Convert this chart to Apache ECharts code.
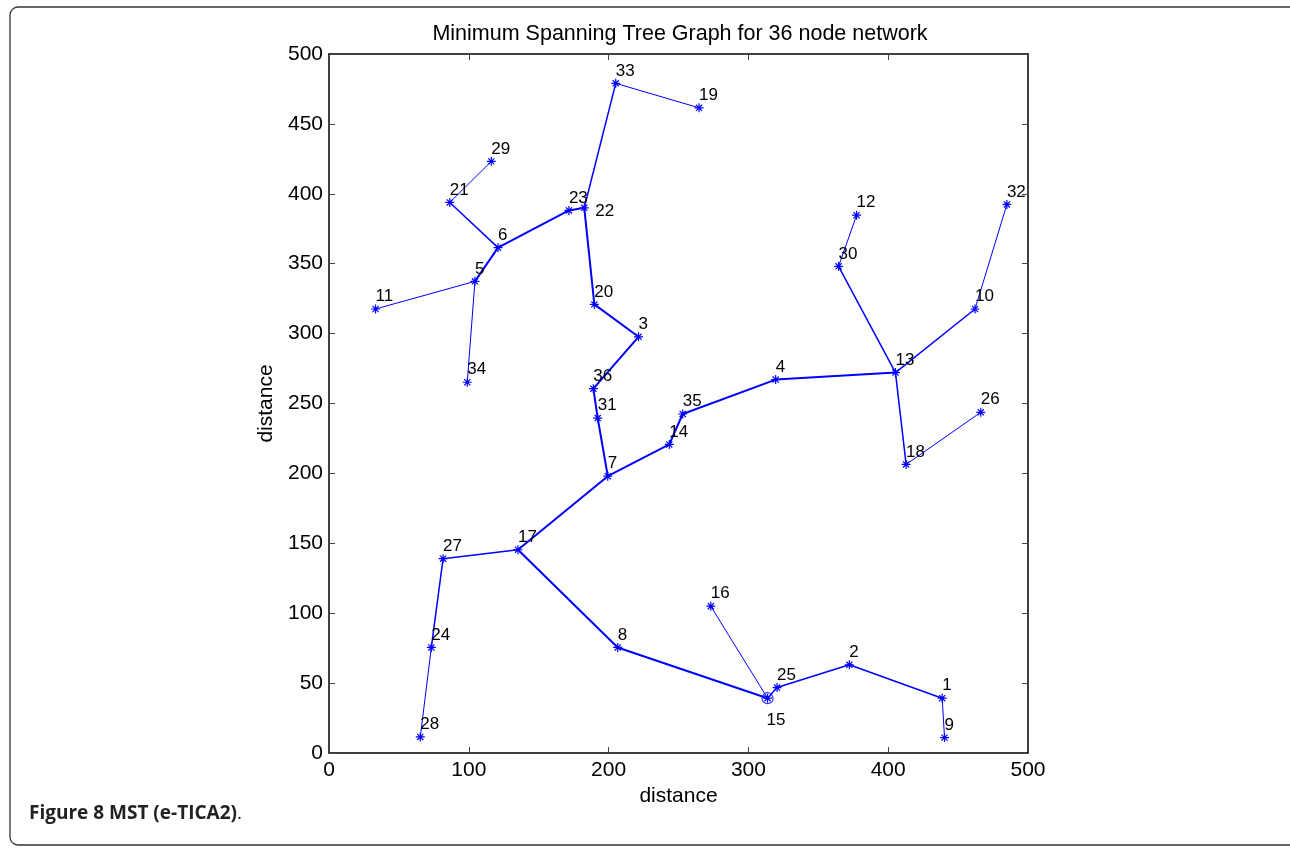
<!DOCTYPE html>
<html>
<head>
<meta charset="utf-8">
<script src="https://cdn.jsdelivr.net/npm/echarts@6/dist/echarts.min.js"></script>
<style>
html,body{margin:0;padding:0;background:#fff;}
#c{width:1290px;height:848px;}
</style>
</head>
<body>
<div id="c"></div>
<script>
// ---- data ----
const titleText = 'Minimum Spanning Tree Graph for 36 node network';
const xName = 'distance';
const yName = 'distance';
const caption = 'Figure 8 MST (e-TICA2)';
const xTicks = [0, 100, 200, 300, 400, 500];
const yTicks = [0, 50, 100, 150, 200, 250, 300, 350, 400, 450, 500];

const nodeIds = [1,2,3,4,5,6,7,8,9,10,11,12,13,14,15,16,17,18,19,20,21,22,23,24,25,26,27,28,29,30,31,32,33,34,35,36];
const nodeX = [438.6,372.2,221.4,319.5,104.4,120.9,199.4,206.5,440.3,462.1,33.3,377.4,405.2,243.4,313.7,273.1,135.2,412.8,264.7,189.8,86.4,182.6,171.6,73.2,320.5,466.2,81.6,65.3,116.1,364.5,192.2,484.9,205.1,98.9,253.0,189.1];
const nodeY = [39.2,63.1,297.7,267.1,337.4,361.5,198.0,75.5,11.0,317.6,317.6,384.7,272.1,220.7,39.2,105.0,145.4,206.4,461.5,320.9,393.8,390.0,388.1,75.5,46.8,243.7,139.0,11.5,423.2,348.1,239.6,392.4,479.0,265.2,242.5,260.6];
const rootNode = 15;

// MST edges (node id pairs)
const edges = [
  [33,19],[33,22],[29,21],[21,6],[6,23],[23,22],[22,20],[6,5],[5,11],[5,34],
  [20,3],[3,36],[36,31],[31,7],[7,14],[14,35],[35,4],[4,13],[13,30],[30,12],
  [13,10],[10,32],[13,18],[18,26],[7,17],[17,27],[27,24],[24,28],[17,8],[8,15],
  [15,16],[15,25],[25,2],[2,1],[1,9]
];
// edges overdrawn several times in the original plot (look heavier)
const heavyEdges = [[6,23],[23,22],[22,20],[20,3],[3,36],[36,31],[31,7],[7,14],[14,35],[35,4],[4,13],[7,17],[17,8],[8,15],[6,5]];
const mediumEdges = [[21,6],[33,22],[13,30],[13,18],[17,27],[27,24],[15,25],[25,2],[2,1],[13,10]];

// ---- build ----
const BLUE = '#0000ff';
function pt(id){ const i = nodeIds.indexOf(id); return [nodeX[i], nodeY[i]]; }
function key(e){ return Math.min(e[0],e[1])+'-'+Math.max(e[0],e[1]); }
const heavySet = new Set(heavyEdges.map(key));
const mediumSet = new Set(mediumEdges.map(key));
const thin = [], med = [], heavy = [];
edges.forEach(e => {
  const d = {coords: [pt(e[0]), pt(e[1])]};
  const k = key(e);
  if (heavySet.has(k)) heavy.push(d); else if (mediumSet.has(k)) med.push(d); else thin.push(d);
});

const starPath = 'path://M5,0L5,10M0,5L10,5M1.6,1.6L8.4,8.4M1.6,8.4L8.4,1.6';
const FONT = 'Liberation Sans, Arial, sans-serif';

const nodeData = nodeIds.map((id, i) => {
  const item = {value: [nodeX[i], nodeY[i]], name: String(id)};
  if (id === 15) item.label = {verticalAlign: 'top', offset: [-1, 14]};
  if (id === 22) item.label = {verticalAlign: 'middle', offset: [11, 4]};
  return item;
});

function lineSeries(data, w){
  return {type:'lines', coordinateSystem:'cartesian2d', xAxisIndex:0, yAxisIndex:0,
    data: data, silent:true, z:2, polyline:false,
    lineStyle:{color:BLUE, width:w, opacity:1}};
}

const chart = echarts.init(document.getElementById('c'), null, {renderer:'canvas'});
const axisCommon = {
  axisLine:{show:true, onZero:false, lineStyle:{color:'#000', width:1.5}},
  axisTick:{show:true, inside:true, length:6, lineStyle:{color:'#444', width:1}},
  splitLine:{show:false}
};
chart.setOption({
  animation:false,
  backgroundColor:'#fff',
  title:[{
    text:titleText, left:675, top:18, textAlign:'center',
    textStyle:{fontFamily:FONT, fontSize:21.5, fontWeight:'normal', color:'#000'}
  },{
    text:'{b|'+caption+'}{n|.}', left:24, top:799,
    textStyle:{rich:{
      b:{fontFamily:'Open Sans, sans-serif', fontSize:19, fontWeight:'bold', color:'#222'},
      n:{fontFamily:'Open Sans, sans-serif', fontSize:19, fontWeight:'normal', color:'#222'}
    }}
  }],
  graphic:[{
    type:'rect', shape:{x:10, y:7, width:1300, height:838, r:8},
    style:{fill:'none', stroke:'#333', lineWidth:1.3}, silent:true, z:-1
  }],
  grid:{left:329, right:262, top:54, bottom:95, containLabel:false},
  xAxis:[Object.assign({
    type:'value', min:xTicks[0], max:xTicks[xTicks.length-1], interval:100, position:'bottom',
    name:xName, nameLocation:'middle', nameGap:31,
    nameTextStyle:{fontFamily:FONT, fontSize:21, color:'#000'},
    axisLabel:{fontFamily:FONT, fontSize:21, color:'#000', margin:7}
  }, axisCommon),
  Object.assign({
    type:'value', min:xTicks[0], max:xTicks[xTicks.length-1], interval:100, position:'top',
    axisLabel:{show:false}
  }, axisCommon)],
  yAxis:[Object.assign({
    type:'value', min:yTicks[0], max:yTicks[yTicks.length-1], interval:50, position:'left',
    name:yName, nameLocation:'middle', nameGap:50, nameRotate:90,
    nameTextStyle:{fontFamily:FONT, fontSize:21, color:'#000'},
    axisLabel:{fontFamily:FONT, fontSize:21, color:'#000', margin:6}
  }, axisCommon),
  Object.assign({
    type:'value', min:yTicks[0], max:yTicks[yTicks.length-1], interval:50, position:'right',
    axisLabel:{show:false}
  }, axisCommon)],
  series:[
    lineSeries(thin, 1),
    lineSeries(med, 1.5),
    lineSeries(heavy, 2),
    {
      type:'scatter', xAxisIndex:0, yAxisIndex:0, z:3, silent:true,
      symbol:starPath, symbolSize:9,
      itemStyle:{color:BLUE, borderColor:BLUE, borderWidth:1.2, opacity:1},
      label:{show:true, position:'inside', align:'left', verticalAlign:'bottom', offset:[0,-4],
        formatter:p=>p.name, fontFamily:FONT, fontSize:17, color:'#000'},
      data: nodeData
    },
    {
      type:'scatter', xAxisIndex:0, yAxisIndex:0, z:3, silent:true,
      symbol:'circle', symbolSize:11,
      itemStyle:{color:'rgba(0,0,0,0)', borderColor:BLUE, borderWidth:1.2},
      data:[pt(rootNode)]
    }
  ]
});
</script>
</body>
</html>
